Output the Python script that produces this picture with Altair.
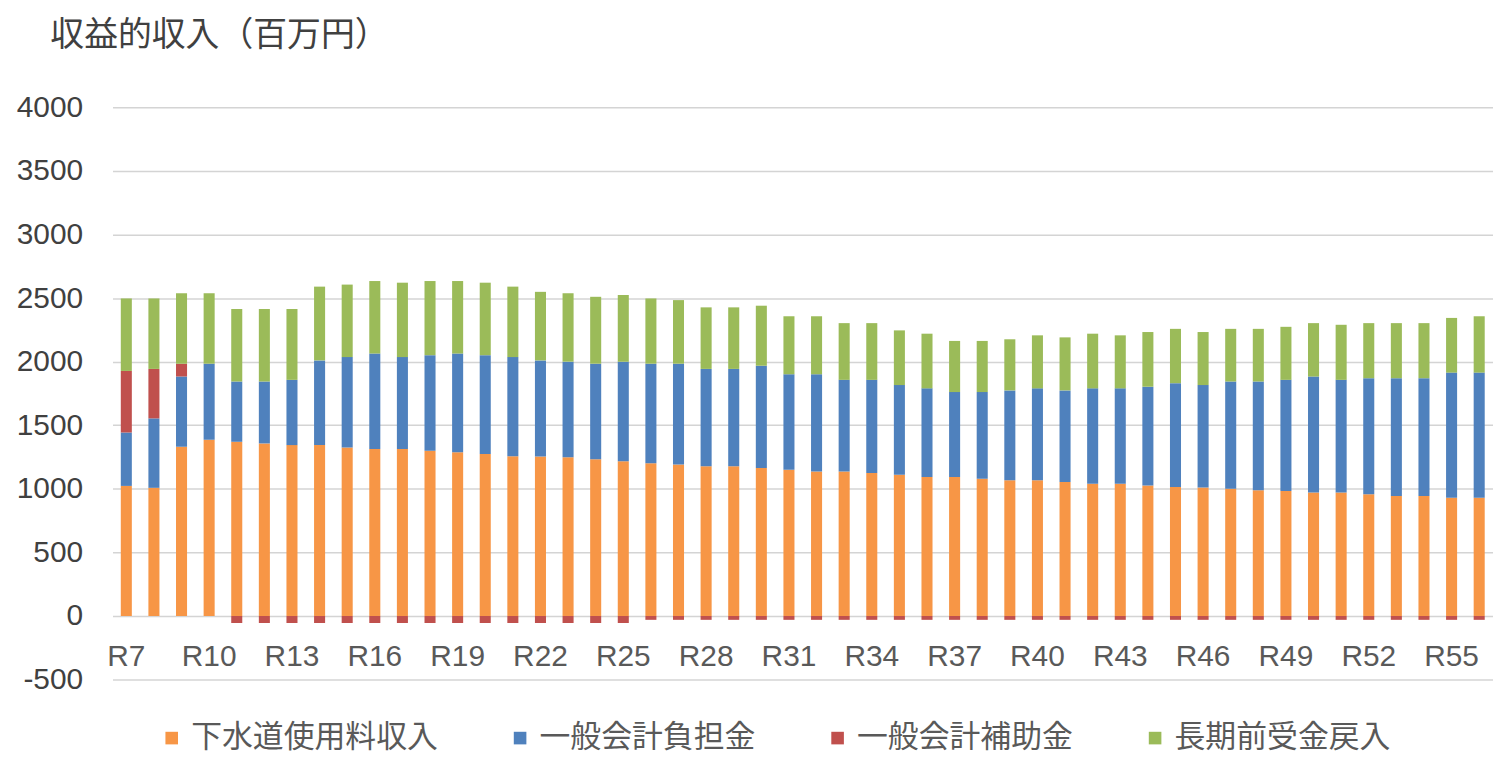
import altair as alt
import pandas as pd

years = [f"R{i}" for i in range(7, 57)]

series_names = ["下水道使用料収入", "一般会計負担金", "一般会計補助金", "長期前受金戻入"]
series_colors = ["#F79646", "#4F81BD", "#C0504D", "#9BBB59"]

sewer_fee = [1023, 1008, 1331, 1386, 1370, 1357, 1344, 1344, 1326, 1313,
             1313, 1300, 1287, 1274, 1256, 1254, 1248, 1233, 1217, 1202,
             1191, 1178, 1178, 1163, 1150, 1137, 1137, 1124, 1111, 1093,
             1093, 1080, 1067, 1067, 1054, 1041, 1041, 1026, 1015, 1010,
             1000, 989, 984, 971, 971, 958, 943, 943, 930, 930]
general_burden = [420, 546, 552, 598, 474, 487, 513, 666, 710, 751,
                  723, 751, 777, 777, 780, 756, 752, 751, 783, 782,
                  793, 765, 765, 805, 751, 764, 720, 733, 705, 697,
                  668, 681, 707, 723, 720, 749, 749, 777, 816, 806,
                  844, 855, 873, 912, 886, 912, 927, 927, 984, 984]
general_subsidy = [484, 389, 101, 0] + [-55] * 15 + [-30] * 31
long_term_return = [570, 554, 554, 554, 570, 570, 557, 580, 570, 570,
                    585, 583, 570, 570, 554, 539, 538, 526, 525, 513,
                    500, 484, 484, 472, 456, 456, 446, 446, 430, 430,
                    402, 402, 402, 417, 417, 430, 417, 430, 427, 417,
                    414, 414, 417, 420, 433, 433, 433, 433, 430, 443]

x_label_values = [f"R{i}" for i in range(7, 57, 3)]
y_tick_values = list(range(-500, 4001, 500))

rows = []
for idx, (name, vals) in enumerate(zip(series_names,
                                       [sewer_fee, general_burden, general_subsidy, long_term_return])):
    for y, v in zip(years, vals):
        rows.append({"year": y, "series": name, "value": v, "order": idx})
df = pd.DataFrame(rows)

chart = alt.Chart(df).mark_bar().encode(
    x=alt.X("year:N", sort=years, title=None,
            scale=alt.Scale(paddingInner=0.6, paddingOuter=0.3),
            axis=alt.Axis(values=x_label_values, labelAngle=0, domain=False, ticks=False,
                          grid=False, offset=-42, labelPadding=4,
                          labelFontSize=30, labelColor="#595959",
                          labelFont="Liberation Sans", labelBaseline="top")),
    y=alt.Y("value:Q", stack="zero",
            scale=alt.Scale(domain=[-500, 4000], nice=False),
            axis=alt.Axis(values=y_tick_values, domain=False, ticks=False,
                          labelExpr="'' + datum.value",
                          labelPadding=30, labelFontSize=30, labelColor="#404040",
                          labelFont="Liberation Sans",
                          gridColor="#d4d4d4", gridWidth=1.5,
                          title="収益的収入（百万円）", titleAngle=0, titleAlign="left",
                          titleBaseline="middle", titleX=-63, titleY=-72,
                          titleFont="Noto Sans CJK JP", titleFontSize=34,
                          titleFontWeight="normal", titleColor="#404040")),
    color=alt.Color("series:N",
                    scale=alt.Scale(domain=series_names, range=series_colors),
                    legend=alt.Legend(orient="none", direction="horizontal",
                                      legendX=44, legendY=618, title=None,
                                      symbolType="square", symbolSize=160,
                                      symbolStrokeWidth=0, labelFontSize=31,
                                      labelFont="Noto Sans CJK JP", labelColor="#595959",
                                      labelLimit=0, columnPadding=67, labelOffset=4)),
    order=alt.Order("order:Q", sort="ascending"),
).properties(
    width=1387, height=575,
    autosize=alt.AutoSizeParams(type="none"),
    padding={"left": 105, "top": 98, "right": 0, "bottom": 80},
).configure_view(stroke=None)

chart.save("out.html", embed_options={"renderer": "svg", "actions": False})
